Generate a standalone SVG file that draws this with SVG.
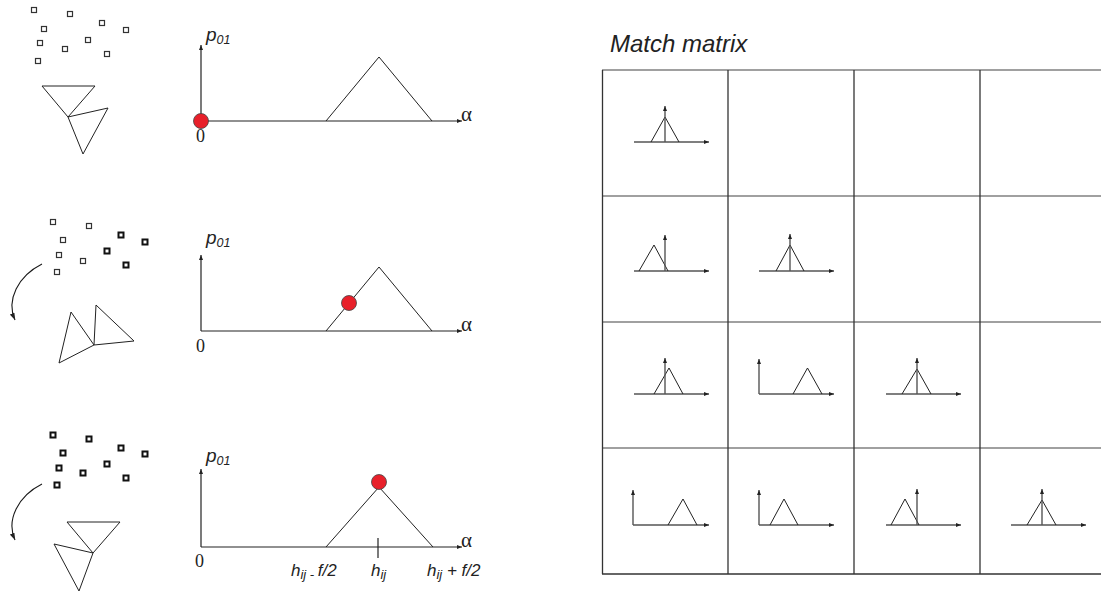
<svg xmlns="http://www.w3.org/2000/svg" width="1101" height="593" viewBox="0 0 1101 593">
<style>
.ln{fill:none;stroke:#1a1a1a;stroke-width:1.1}
.ax{fill:none;stroke:#222;stroke-width:1.2}
.max{fill:none;stroke:#555;stroke-width:1.4}
.tri{fill:none;stroke:#222;stroke-width:1}
.sq{fill:#fff;stroke:#333;stroke-width:1.2}
.sqb{fill:#fff;stroke:#111;stroke-width:2}
.dot{fill:#e8202a;stroke:#444;stroke-width:0.8}
.it{font-family:"Liberation Sans",Arial,sans-serif;font-style:italic;fill:#222}
.sr{font-family:"Liberation Serif","Times New Roman",serif;fill:#222}
.gh{stroke:#808080;stroke-width:1.6;fill:none}
.gv{stroke:#333;stroke-width:1.3;fill:none}
</style>
<defs>
<marker id="ah" markerUnits="userSpaceOnUse" markerWidth="8" markerHeight="6" refX="7" refY="3" orient="auto">
<path d="M0,0.5 L7,3 L0,5.5 Z" fill="#222"/>
</marker>
<marker id="ahs" markerUnits="userSpaceOnUse" markerWidth="6" markerHeight="5" refX="5" refY="2.5" orient="auto">
<path d="M0,0.5 L5,2.5 L0,4.5 Z" fill="#222"/>
</marker>
</defs>

<!-- Left column: scenes -->
<g id="scene1">
<rect class="sq" x="31.5" y="7.5" width="5" height="5"/>
<rect class="sq" x="67.5" y="11.5" width="5" height="5"/>
<rect class="sq" x="99.5" y="20.5" width="5" height="5"/>
<rect class="sq" x="123.5" y="27.5" width="5" height="5"/>
<rect class="sq" x="41.5" y="26.5" width="5" height="5"/>
<rect class="sq" x="37.5" y="40.5" width="5" height="5"/>
<rect class="sq" x="85.5" y="37.5" width="5" height="5"/>
<rect class="sq" x="62.5" y="46.5" width="5" height="5"/>
<rect class="sq" x="104.5" y="51.5" width="5" height="5"/>
<rect class="sq" x="35.5" y="58.5" width="5" height="5"/>
<polygon class="tri" points="42,86 95,86 68,117"/>
<polygon class="tri" points="68,117 108,108 83,154"/>
</g>

<g id="scene2">
<rect class="sq" x="50.5" y="219.5" width="5" height="5"/>
<rect class="sq" x="86.5" y="223.5" width="5" height="5"/>
<rect class="sq" x="60.5" y="237.5" width="5" height="5"/>
<rect class="sqb" x="118.5" y="232.5" width="5" height="5"/>
<rect class="sqb" x="142.5" y="239.5" width="5" height="5"/>
<rect class="sq" x="56.5" y="252.5" width="5" height="5"/>
<rect class="sqb" x="104.5" y="248.5" width="5" height="5"/>
<rect class="sq" x="80.5" y="258.5" width="5" height="5"/>
<rect class="sqb" x="123.5" y="262.5" width="5" height="5"/>
<rect class="sq" x="54.5" y="269.5" width="5" height="5"/>
<polygon class="tri" points="71,312 94,345 59,363"/>
<polygon class="tri" points="96,305 134,341 94,345"/>
</g>

<g id="scene3">
<rect class="sqb" x="50.5" y="432.5" width="5" height="5"/>
<rect class="sqb" x="86.5" y="436.5" width="5" height="5"/>
<rect class="sqb" x="60.5" y="450.5" width="5" height="5"/>
<rect class="sqb" x="118.5" y="445.5" width="5" height="5"/>
<rect class="sqb" x="142.5" y="451.5" width="5" height="5"/>
<rect class="sqb" x="56.5" y="465.5" width="5" height="5"/>
<rect class="sqb" x="104.5" y="461.5" width="5" height="5"/>
<rect class="sqb" x="80.5" y="470.5" width="5" height="5"/>
<rect class="sqb" x="123.5" y="475.5" width="5" height="5"/>
<rect class="sqb" x="54.5" y="482.5" width="5" height="5"/>
<polygon class="tri" points="67,522 120,522 93,553"/>
<polygon class="tri" points="54,544 93,553 79,591"/>
</g>

<g id="connectors">
<path class="ln" d="M42,264 C18,276 6,300 15,320" marker-end="url(#ah)"/>
<path class="ln" d="M42,484 C18,496 6,520 15,540" marker-end="url(#ah)"/>
</g>

<!-- Graphs -->
<g id="graph1">
<line class="ax" x1="201" y1="121" x2="201" y2="45" marker-end="url(#ahs)"/>
<line class="ax" x1="201" y1="121" x2="462" y2="121" marker-end="url(#ahs)"/>
<polyline class="tri" points="326,121 379,57 432,121"/>
<circle class="dot" cx="201" cy="121" r="7.5"/>
<text class="it" x="206" y="41" font-size="19">p<tspan font-size="12.5" dy="3">01</tspan></text>
<text class="sr" x="196" y="142" font-size="18">0</text>
<text class="sr" x="461" y="121" font-size="21">α</text>
</g>

<g id="graph2">
<line class="ax" x1="201" y1="331" x2="201" y2="255" marker-end="url(#ahs)"/>
<line class="ax" x1="201" y1="331" x2="462" y2="331" marker-end="url(#ahs)"/>
<polyline class="tri" points="326,331 379,267 432,331"/>
<circle class="dot" cx="349" cy="303" r="7.5"/>
<text class="it" x="206" y="244" font-size="19">p<tspan font-size="12.5" dy="3">01</tspan></text>
<text class="sr" x="196" y="352" font-size="18">0</text>
<text class="sr" x="461" y="331" font-size="21">α</text>
</g>

<g id="graph3">
<line class="ax" x1="201" y1="547" x2="201" y2="469" marker-end="url(#ahs)"/>
<line class="ax" x1="201" y1="547" x2="462" y2="547" marker-end="url(#ahs)"/>
<polyline class="tri" points="326,547 379,487 433,547"/>
<line class="ax" x1="378" y1="538" x2="378" y2="558"/>
<circle class="dot" cx="379" cy="482" r="7.5"/>
<text class="it" x="206" y="462" font-size="19">p<tspan font-size="12.5" dy="3">01</tspan></text>
<text class="sr" x="195" y="567" font-size="18">0</text>
<text class="sr" x="461" y="547" font-size="21">α</text>
<text class="it" x="291" y="576" font-size="17">h<tspan font-size="13" dy="3">ij</tspan><tspan font-size="13"> - </tspan><tspan dy="-3">f/2</tspan></text>
<text class="it" x="371" y="576" font-size="17">h<tspan font-size="13" dy="3">ij</tspan></text>
<text class="it" x="427" y="576" font-size="17">h<tspan font-size="13" dy="3">ij</tspan><tspan dy="-3"> + f/2</tspan></text>
</g>

<!-- Match matrix -->
<text class="it" x="610" y="52" font-size="24" fill="#333">Match matrix</text>
<g id="matrix-grid">
<line class="gh" x1="602" y1="70" x2="1101" y2="70"/>
<line class="gh" x1="602" y1="196" x2="1101" y2="196"/>
<line class="gh" x1="602" y1="322" x2="1101" y2="322"/>
<line class="gh" x1="602" y1="448" x2="1101" y2="448"/>
<line class="gv" x1="602" y1="574" x2="1101" y2="574"/>
<line class="gv" x1="602.5" y1="70" x2="602.5" y2="574"/>
<line class="gv" x1="728" y1="70" x2="728" y2="574"/>
<line class="gv" x1="854" y1="70" x2="854" y2="574"/>
<line class="gv" x1="980" y1="70" x2="980" y2="574"/>
</g>

<g id="cell-0-0">
<line class="max" x1="634" y1="142" x2="709" y2="142" marker-end="url(#ahs)"/>
<polyline class="tri" points="651,142 665,117 679,142"/>
<line class="max" x1="665" y1="142" x2="665" y2="106" marker-end="url(#ahs)"/>
</g>
<g id="cell-1-0">
<line class="max" x1="634" y1="271" x2="709" y2="271" marker-end="url(#ahs)"/>
<polyline class="tri" points="639,271 654,245 668,271"/>
<line class="max" x1="665" y1="271" x2="665" y2="235" marker-end="url(#ahs)"/>
</g>
<g id="cell-1-1">
<line class="max" x1="759" y1="271" x2="834" y2="271" marker-end="url(#ahs)"/>
<polyline class="tri" points="776,271 790,245 804,271"/>
<line class="max" x1="790" y1="271" x2="790" y2="234" marker-end="url(#ahs)"/>
</g>
<g id="cell-2-0">
<line class="max" x1="634" y1="394" x2="709" y2="394" marker-end="url(#ahs)"/>
<polyline class="tri" points="654,394 669,368 683,394"/>
<line class="max" x1="665" y1="394" x2="665" y2="358" marker-end="url(#ahs)"/>
</g>
<g id="cell-2-1">
<line class="max" x1="759" y1="394" x2="834" y2="394" marker-end="url(#ahs)"/>
<line class="max" x1="759" y1="394" x2="759" y2="359" marker-end="url(#ahs)"/>
<polyline class="tri" points="793,394 807.5,368 822,394"/>
</g>
<g id="cell-2-2">
<line class="max" x1="886" y1="394" x2="961" y2="394" marker-end="url(#ahs)"/>
<polyline class="tri" points="902,394 917,369 931,394"/>
<line class="max" x1="917" y1="394" x2="917" y2="358" marker-end="url(#ahs)"/>
</g>
<g id="cell-3-0">
<line class="max" x1="633" y1="525" x2="709" y2="525" marker-end="url(#ahs)"/>
<line class="max" x1="633" y1="525" x2="633" y2="490" marker-end="url(#ahs)"/>
<polyline class="tri" points="668,525 683,499 697,525"/>
</g>
<g id="cell-3-1">
<line class="max" x1="759" y1="525" x2="834" y2="525" marker-end="url(#ahs)"/>
<line class="max" x1="759" y1="525" x2="759" y2="490" marker-end="url(#ahs)"/>
<polyline class="tri" points="770,525 784,499 798,525"/>
</g>
<g id="cell-3-2">
<line class="max" x1="886" y1="525" x2="961" y2="525" marker-end="url(#ahs)"/>
<polyline class="tri" points="891,525 905,499 919,525"/>
<line class="max" x1="917" y1="525" x2="917" y2="489" marker-end="url(#ahs)"/>
</g>
<g id="cell-3-3">
<line class="max" x1="1011" y1="525" x2="1086" y2="525" marker-end="url(#ahs)"/>
<polyline class="tri" points="1027,525 1042,500 1056,525"/>
<line class="max" x1="1042" y1="525" x2="1042" y2="489" marker-end="url(#ahs)"/>
</g>
</svg>
